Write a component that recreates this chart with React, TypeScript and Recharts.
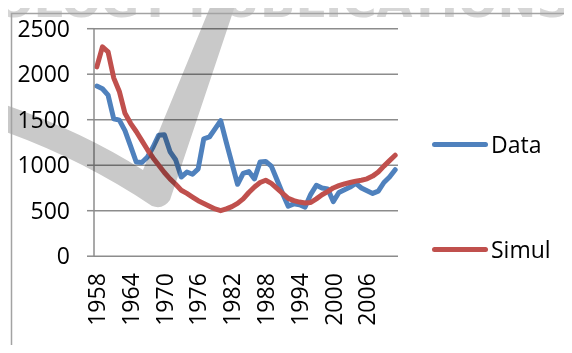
import React from 'react';
import { LineChart, Line, XAxis, YAxis, CartesianGrid } from 'recharts';

const years = [
  1958, 1959, 1960, 1961, 1962, 1963, 1964, 1965, 1966, 1967,
  1968, 1969, 1970, 1971, 1972, 1973, 1974, 1975, 1976, 1977,
  1978, 1979, 1980, 1981, 1982, 1983, 1984, 1985, 1986, 1987,
  1988, 1989, 1990, 1991, 1992, 1993, 1994, 1995, 1996, 1997,
  1998, 1999, 2000, 2001, 2002, 2003, 2004, 2005, 2006, 2007,
  2008, 2009, 2010, 2011,
];

const observed = [
  1870, 1840, 1770, 1510, 1495, 1380, 1210, 1035, 1030, 1090,
  1200, 1330, 1335, 1150, 1060, 870, 925, 900, 960, 1290,
  1310, 1400, 1490, 1250, 1020, 790, 910, 930, 850, 1035,
  1040, 990, 840, 690, 550, 575, 565, 540, 680, 780,
  750, 740, 600, 700, 730, 760, 800, 750, 720, 690,
  715, 810, 870, 950,
];

const simulated = [
  2080, 2300, 2245, 1960, 1810, 1570, 1460, 1370, 1270, 1170,
  1080, 1000, 920, 850, 790, 725, 690, 650, 610, 580,
  550, 520, 500, 520, 545, 580, 630, 700, 760, 810,
  835, 800, 745, 690, 635, 610, 595, 585, 590, 630,
  675, 710, 750, 775, 795, 810, 825, 835, 850, 880,
  925, 990, 1050, 1110,
];

const yTicks = [0, 500, 1000, 1500, 2000, 2500];
const labelYears = [1958, 1964, 1970, 1976, 1982, 1988, 1994, 2000, 2006];
// category boundaries, one tick mark between each pair of years
const boundaries = [...years.map((y) => y - 0.5), years[years.length - 1] + 0.5];

const series = [
  { key: 'data', name: 'Data', color: '#4F81BD' },
  { key: 'simul', name: 'Simul', color: '#C0504D' },
];

const rows = years.map((year, i) => ({ year, data: observed[i], simul: simulated[i] }));

const FONT = '"Open Sans", sans-serif';
const AXIS = '#8c8c8c';
const xDomain = [years[0] - 0.5, years[years.length - 1] + 0.5];

function YearTick({ x, y, payload }: any) {
  return (
    <text
      transform={`translate(${x},${y + 17}) rotate(-90)`}
      textAnchor="end"
      dy="0.36em"
      fontSize={23}
      fontFamily={FONT}
      fill="#000"
    >
      {payload.value}
    </text>
  );
}

function SideLegend() {
  return (
    <>
      {series.map((s, i) => (
        <div
          key={s.key}
          style={{
            position: 'absolute',
            left: 432,
            top: i === 0 ? 128 : 233,
            display: 'flex',
            alignItems: 'center',
            fontFamily: FONT,
            fontSize: 23,
            color: '#000',
            height: 32,
          }}
        >
          <span style={{ width: 56, height: 5, borderRadius: 3, background: s.color, marginRight: 3 }} />
          {s.name}
        </div>
      ))}
    </>
  );
}

function Backdrop() {
  return (
    <svg
      width={572}
      height={353}
      style={{ position: 'absolute', left: 0, top: 0, pointerEvents: 'none', mixBlendMode: 'multiply' }}
    >
      <text
        x={-6}
        y={17}
        fontSize={44}
        fontWeight="bold"
        fontFamily='"DejaVu Sans", sans-serif'
        fill="#d6d6d6"
        textLength={576}
        lengthAdjust="spacingAndGlyphs"
      >
        OLOGY PUBLICATIONS
      </text>
      <path
        d="M0,103 Q80,130 143,170 L213,0 L237,0 L170,200 Q163,210 152,206 Q80,158 0,130 Z"
        fill="#c9c9c9"
      />
      <path d="M11.5,353 L11.5,13.5 L572,13.5" fill="none" stroke="#a3a3a3" strokeWidth={1.5} />
    </svg>
  );
}

export default function App() {
  return (
    <div style={{ position: 'relative', width: 572, height: 353, margin: -8, background: '#fff' }}>
      <LineChart width={572} height={353} data={rows} margin={{ top: 28.7, right: 174, bottom: 0, left: 0 }}>
        <CartesianGrid vertical={false} stroke={AXIS} strokeWidth={1.5} xAxisId="ticks" />
        <XAxis
          xAxisId="ticks"
          dataKey="year"
          type="number"
          domain={xDomain}
          ticks={boundaries}
          interval={0}
          height={0}
          stroke={AXIS}
          strokeWidth={1.5}
          tickSize={6}
          tick={() => <g />}
        />
        <XAxis
          xAxisId="labels"
          dataKey="year"
          type="number"
          domain={xDomain}
          ticks={labelYears}
          interval={0}
          height={96.8}
          axisLine={false}
          tickLine={false}
          tickSize={0}
          tickMargin={0}
          tick={<YearTick />}
        />
        <YAxis
          width={94}
          domain={[0, 2500]}
          ticks={yTicks}
          interval={0}
          stroke={AXIS}
          strokeWidth={1.5}
          tickSize={7}
          tickMargin={17}
          tick={{ fill: '#000', fontSize: 23, fontFamily: FONT }}
        />
        {series.map((s) => (
          <Line
            key={s.key}
            xAxisId="ticks"
            dataKey={s.key}
            name={s.name}
            stroke={s.color}
            strokeWidth={5}
            strokeLinejoin="round"
            strokeLinecap="round"
            dot={false}
            activeDot={false}
            isAnimationActive={false}
          />
        ))}
      </LineChart>
      <SideLegend />
      <Backdrop />
    </div>
  );
}
